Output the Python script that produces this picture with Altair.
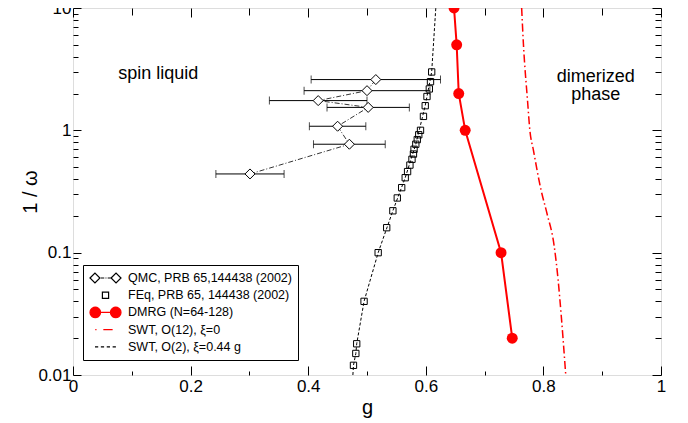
import altair as alt
import pandas as pd
import numpy as np

FONT = "Liberation Sans"

# ---------------- data ----------------
# QMC, PRB 65,144438 (2002)  (diamonds, horizontal error bars)
qmc_g = [0.301, 0.470, 0.450, 0.502, 0.417, 0.500, 0.515]
qmc_y = [0.44, 0.77, 1.08, 1.54, 1.75, 2.11, 2.60]
qmc_err = [0.058, 0.061, 0.048, 0.070, 0.083, 0.107, 0.110]

# FEq, PRB 65, 144438 (2002)  (open squares)
feq_g = [0.477, 0.481, 0.4825, 0.495, 0.519, 0.5335, 0.544, 0.5515, 0.559, 0.565,
         0.569, 0.573, 0.5765, 0.579, 0.580, 0.583, 0.5855, 0.588, 0.591, 0.596,
         0.599, 0.602, 0.606, 0.608, 0.610]
feq_y = [0.012, 0.015, 0.018, 0.040, 0.10, 0.16, 0.22, 0.28, 0.34, 0.41,
         0.46, 0.52, 0.58, 0.64, 0.70, 0.77, 0.84, 0.92, 1.0, 1.30,
         1.59, 1.89, 2.18, 2.50, 3.0]

# DMRG (N=64-128)
dmrg_g = [0.648, 0.6525, 0.656, 0.667, 0.728, 0.747]
dmrg_y = [10, 5, 2, 1, 0.1, 0.02]

# SWT, O(12), xi=0
swt12_g = [0.763, 0.766, 0.773, 0.777, 0.783, 0.796, 0.806, 0.8185, 0.825, 0.830, 0.838]
swt12_y = [10, 5.1, 1.75, 1.0, 0.69, 0.325, 0.21, 0.112, 0.06, 0.032, 0.01]

# SWT, O(2), xi=0.44 g
swt2_g = [0.476, 0.477, 0.481, 0.4825, 0.495, 0.519, 0.544, 0.565, 0.583, 0.599, 0.610, 0.617]
swt2_y = [0.01, 0.012, 0.015, 0.018, 0.04, 0.10, 0.22, 0.41, 0.77, 1.59, 3.0, 10]

series_names = ["QMC, PRB 65,144438 (2002)", "FEq, PRB 65, 144438 (2002)",
                "DMRG (N=64-128)", "SWT, O(12), \u03be=0", "SWT, O(2), \u03be=0.44 g"]

ann_text = ["spin liquid", "dimerized\nphase"]
ann_g = [0.145, 0.889]
ann_y = [2.9, 2.75]

x_major = [0, 0.2, 0.4, 0.6, 0.8, 1.0]
x_minor = [0.1, 0.3, 0.5, 0.7, 0.9]
y_major = [0.01, 0.1, 1, 10]
y_minor = [m * d for d in (0.01, 0.1, 1) for m in range(2, 10)]

# ---------------- tables ----------------
qmc = pd.DataFrame({"g": qmc_g, "y": qmc_y, "err": qmc_err, "i": range(len(qmc_g))})
qmc["lo"] = qmc["g"] - qmc["err"]
qmc["hi"] = qmc["g"] + qmc["err"]
caps = pd.concat([pd.DataFrame({"g": qmc["lo"], "y": qmc["y"]}),
                  pd.DataFrame({"g": qmc["hi"], "y": qmc["y"]})])
feq = pd.DataFrame({"g": feq_g, "y": feq_y})
dmrg = pd.DataFrame({"g": dmrg_g, "y": dmrg_y, "i": range(len(dmrg_g))})
swt12 = pd.DataFrame({"g": swt12_g, "y": swt12_y, "i": range(len(swt12_g))})
swt2 = pd.DataFrame({"g": swt2_g, "y": swt2_y, "i": range(len(swt2_g))})
ann = pd.DataFrame({"g": ann_g, "y": ann_y, "t": ann_text})
leg = pd.DataFrame({"series": series_names, "g": [None] * 5, "y": [None] * 5})

xs = alt.Scale(domain=[0, 1], nice=False, zero=False)
ys = alt.Scale(type="log", domain=[0.01, 10], nice=False)

base_axis = dict(domain=False, grid=False, tickColor="black", tickWidth=1)
ax_x_major = alt.Axis(orient="bottom", values=x_major, tickSize=9, offset=-9, labelFontSize=17,
                      labelFont=FONT, labelColor="black", labelPadding=3, labelFlush=False,
                      format="~g", title="g", titleFontSize=20, titleFont=FONT,
                      titleFontWeight="normal", titleColor="black", titlePadding=3, **base_axis)
ax_x_minor = alt.Axis(orient="bottom", values=x_minor, tickSize=4, offset=-4, labels=False,
                      title=None, **base_axis)
ax_x_top = alt.Axis(orient="top", values=x_major, tickSize=9, offset=-9, labels=False,
                    title=None, **base_axis)
ax_x_top_minor = alt.Axis(orient="top", values=x_minor, tickSize=7, offset=-7, labels=False,
                          title=None, **base_axis)
ax_y_major = alt.Axis(orient="left", values=y_major, tickSize=8, offset=-8, labelFontSize=17,
                      labelFont=FONT, labelColor="black", labelPadding=2, labelFlush=False,
                      labelOverlap=False, format="~g", title="1 / \u03c9", titleFontSize=20,
                      titleFont=FONT, titleFontWeight="normal", titleColor="black",
                      titlePadding=-3, **base_axis)
ax_y_minor = alt.Axis(orient="left", values=y_minor, tickSize=5, offset=-5, labels=False,
                      title=None, **base_axis)
ax_y_right = alt.Axis(orient="right", values=y_major, tickSize=9, offset=-9, labels=False,
                      title=None, **base_axis)
ax_y_right_minor = alt.Axis(orient="right", values=y_minor, tickSize=6, offset=-6, labels=False,
                            title=None, **base_axis)


def X(field="g", axis=None):
    return alt.X(f"{field}:Q", scale=xs, axis=axis)


def Y(axis=None):
    return alt.Y("y:Q", scale=ys, axis=axis)


err_rules = alt.Chart(qmc).mark_rule(color="black", strokeWidth=1).encode(
    x=X("lo"), x2="hi:Q", y=Y())
err_caps = alt.Chart(caps).mark_tick(color="black", orient="vertical", size=8, thickness=1).encode(
    x=X(), y=Y())
qmc_line = alt.Chart(qmc).mark_line(color="black", strokeWidth=0.8, strokeDash=[5, 2, 1, 2]).encode(
    x=X(axis=ax_x_major), y=Y(ax_y_major), order="i:Q")
qmc_pts = alt.Chart(qmc).mark_point(shape="diamond", size=100, filled=True, fill="white",
                                    stroke="black", strokeWidth=1, opacity=1).encode(
    x=X(axis=ax_x_minor), y=Y(ax_y_minor))
swt2_line = alt.Chart(swt2).mark_line(color="black", strokeWidth=1, strokeDash=[3, 2]).encode(
    x=X(axis=ax_x_top), y=Y(ax_y_right), order="i:Q")
feq_pts = alt.Chart(feq).mark_point(shape="square", size=40, filled=False, stroke="black",
                                    strokeWidth=1, opacity=1).encode(
    x=X(axis=ax_x_top_minor), y=Y(ax_y_right_minor))
swt12_line = alt.Chart(swt12).mark_line(color="red", strokeWidth=1.5, interpolate="monotone",
                                        strokeDash=[8, 3, 1.5, 3]).encode(
    x=X(), y=Y(), order="i:Q")
dmrg_line = alt.Chart(dmrg).mark_line(color="red", strokeWidth=2).encode(
    x=X(), y=Y(), order="i:Q")
dmrg_pts = alt.Chart(dmrg).mark_circle(color="red", size=120, opacity=1).encode(
    x=X(), y=Y())
ann_txt = alt.Chart(ann).mark_text(font=FONT, fontSize=18, color="black", lineBreak="\n",
                                   lineHeight=18, align="center", baseline="middle").encode(
    x=X(), y=Y(), text="t:N")


# ---- legend glyphs (unit coordinates, scaled by the legend symbol size) ----
def circle_path(cx, r, n=20):
    pts = [(cx + r * np.cos(2 * np.pi * k / n), r * np.sin(2 * np.pi * k / n)) for k in range(n)]
    return "M" + "L".join(f"{x:.3f},{y:.3f}" for x, y in pts) + "Z"


def diamond_path(cx, r):
    return f"M{cx - r},0L{cx},{-r}L{cx + r},0L{cx},{r}Z"


p_qmc = (diamond_path(-0.68, 0.32) + diamond_path(0.68, 0.32) +
         "M-0.3,0L-0.08,0M0.0,0L0.06,0M0.14,0L0.34,0")
p_feq = "M-0.2,-0.2L0.2,-0.2L0.2,0.2L-0.2,0.2Z"
p_dmrg = circle_path(-0.66, 0.34) + circle_path(0.66, 0.34) + "M-0.34,0L0.34,0"
p_swt12 = "M-0.66,0L-0.58,0M-0.14,0L0.46,0"
p_swt2 = "M-0.68,0L-0.47,0M-0.3,0L-0.09,0M0.08,0L0.29,0M0.46,0L0.67,0"

legend = alt.Legend(title=None, orient="none", legendX=10, legendY=257, strokeColor="black",
                    fillColor="white", padding=6, labelFontSize=12.5, labelFont=FONT,
                    labelColor="black", symbolSize=961, symbolStrokeWidth=1.2, rowPadding=3.2,
                    clipHeight=14, labelOffset=6, symbolOpacity=1, labelLimit=0, cornerRadius=0)
leg_layer = alt.Chart(leg).mark_point(filled=True, opacity=1).encode(
    x=X(), y=Y(),
    shape=alt.Shape("series:N", scale=alt.Scale(domain=series_names,
                    range=[p_qmc, p_feq, p_dmrg, p_swt12, p_swt2]), legend=legend),
    fill=alt.Fill("series:N", scale=alt.Scale(domain=series_names,
                  range=["white", "white", "red", "white", "white"]), legend=legend),
    stroke=alt.Stroke("series:N", scale=alt.Scale(domain=series_names,
                      range=["black", "black", "red", "red", "black"]), legend=legend),
)

chart = alt.layer(
    err_rules, err_caps, qmc_line, qmc_pts, swt2_line, feq_pts, swt12_line, dmrg_line,
    dmrg_pts, ann_txt, leg_layer
).resolve_axis(x="independent", y="independent").properties(
    width=588, height=367,
    autosize=alt.AutoSizeParams(type="none"),
    padding={"left": 65, "top": 0, "right": 19, "bottom": 46},
).configure_view(stroke="black", strokeWidth=1.3).configure(background="white", font=FONT)

chart.save("out.html", embed_options={"renderer": "svg", "actions": False})
